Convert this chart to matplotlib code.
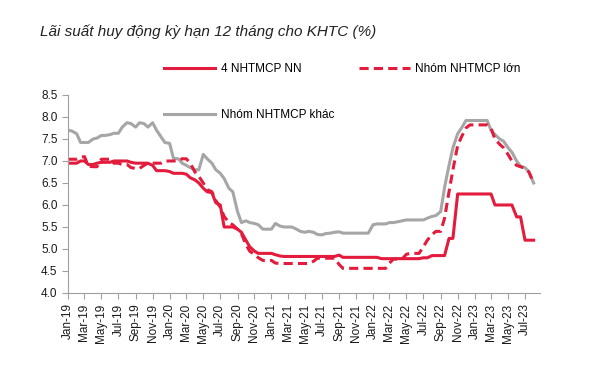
import numpy as np
import pandas as pd
import matplotlib; matplotlib.use("Agg")
import matplotlib.pyplot as plt
import matplotlib.dates as mdates

plt.rcParams.update({"font.family": ["Liberation Sans Narrow", "Liberation Sans", "DejaVu Sans"],
                     "font.size": 9, "axes.linewidth": 0.8})
RED = "#E31B3C"; GREY = "#A6A6A6"; AXC = "#A0A0A0"

# semi-monthly observations, Jan-19 .. mid Aug-23
dates = pd.date_range("2019-01-01", periods=111, freq="SMS")

nn = [6.95, 6.95, 6.95, 7.00, 7.00, 6.92, 6.92, 6.95, 6.97, 6.97,
      6.97, 7.00, 7.00, 7.00, 7.00, 6.97, 6.95, 6.95, 6.95, 6.95,
      6.90, 6.78, 6.78, 6.78, 6.76, 6.72, 6.72, 6.72, 6.70, 6.62,
      6.57, 6.50, 6.38, 6.30, 6.28, 6.05, 6.00, 5.50, 5.50, 5.50,
      5.45, 5.38, 5.20, 5.05, 4.95, 4.90, 4.90, 4.90, 4.90, 4.87,
      4.84, 4.83, 4.83, 4.83, 4.83, 4.83, 4.83, 4.83, 4.83, 4.83,
      4.83, 4.83, 4.83, 4.83, 4.86, 4.81, 4.81, 4.81, 4.81, 4.81,
      4.81, 4.81, 4.81, 4.81, 4.78, 4.78, 4.78, 4.78, 4.78, 4.78,
      4.78, 4.78, 4.78, 4.78, 4.80, 4.80, 4.85, 4.85, 4.85, 4.85,
      5.24, 5.24, 6.25, 6.25, 6.25, 6.25, 6.25, 6.25, 6.25, 6.25,
      6.25, 6.00, 6.00, 6.00, 6.00, 6.00, 5.73, 5.73, 5.20, 5.20,
      5.20]

lon = [7.04, 7.04, 7.04, 7.08, 7.10, 6.88, 6.87, 6.87, 7.04, 7.04,
       7.04, 6.95, 6.95, 6.92, 6.92, 6.85, 6.83, 6.83, 6.90, 6.95,
       6.95, 6.95, 6.95, 7.00, 7.00, 7.00, 7.00, 7.05, 7.05, 6.95,
       6.75, 6.65, 6.50, 6.35, 6.30, 6.10, 5.95, 5.74, 5.60, 5.55,
       5.45, 5.35, 5.10, 4.95, 4.87, 4.80, 4.74, 4.74, 4.74, 4.68,
       4.67, 4.67, 4.67, 4.67, 4.67, 4.67, 4.67, 4.67, 4.72, 4.79,
       4.79, 4.79, 4.79, 4.79, 4.65, 4.56, 4.56, 4.56, 4.56, 4.56,
       4.56, 4.56, 4.56, 4.56, 4.56, 4.56, 4.68, 4.77, 4.77, 4.77,
       4.88, 4.90, 4.90, 4.90, 5.05, 5.20, 5.33, 5.40, 5.40, 5.70,
       6.30, 6.80, 7.35, 7.55, 7.75, 7.82, 7.82, 7.82, 7.82, 7.82,
       7.74, 7.50, 7.38, 7.30, 7.15, 7.00, 6.90, 6.87, 6.83, 6.75,
       6.50]

khac = [7.70, 7.68, 7.62, 7.42, 7.42, 7.42, 7.50, 7.52, 7.58, 7.58,
        7.60, 7.63, 7.63, 7.77, 7.87, 7.85, 7.77, 7.87, 7.85, 7.77,
        7.87, 7.70, 7.55, 7.42, 7.40, 7.06, 7.05, 6.95, 6.90, 6.85,
        6.80, 6.80, 7.15, 7.05, 6.95, 6.80, 6.72, 6.60, 6.38, 6.30,
        5.85, 5.60, 5.64, 5.60, 5.58, 5.55, 5.45, 5.45, 5.45, 5.58,
        5.52, 5.50, 5.50, 5.50, 5.45, 5.40, 5.38, 5.40, 5.38, 5.33,
        5.32, 5.35, 5.36, 5.38, 5.39, 5.36, 5.36, 5.36, 5.36, 5.36,
        5.36, 5.36, 5.55, 5.57, 5.57, 5.57, 5.60, 5.60, 5.62, 5.64,
        5.66, 5.66, 5.66, 5.66, 5.66, 5.70, 5.74, 5.76, 5.85, 6.40,
        6.90, 7.30, 7.62, 7.75, 7.92, 7.92, 7.92, 7.92, 7.92, 7.92,
        7.70, 7.60, 7.50, 7.45, 7.30, 7.20, 7.00, 6.88, 6.85, 6.75,
        6.50]

fig = plt.figure(figsize=(5.9, 3.66), dpi=100)
ax = fig.add_axes([0.1153, 0.1995, 0.80, 0.541])

l3, = ax.plot(dates, khac, color=GREY, lw=2.2, label="Nhóm NHTMCP khác")
l1, = ax.plot(dates, nn, color=RED, lw=2.2, label="4 NHTMCP NN")
l2, = ax.plot(dates, lon, color=RED, lw=2.2, ls=(0, (3, 1.7)), label="Nhóm NHTMCP lớn")

ax.set_ylim(4.0, 8.5)
ax.set_yticks(np.arange(4.0, 8.51, 0.5))
ax.yaxis.set_major_formatter(plt.FormatStrFormatter("%.1f"))
ax.set_xlim(pd.Timestamp("2019-01-01"), pd.Timestamp("2023-08-24"))
ax.xaxis.set_major_locator(mdates.MonthLocator(bymonth=[1, 3, 5, 7, 9, 11]))
ax.xaxis.set_major_formatter(mdates.DateFormatter("%b-%y"))
plt.setp(ax.get_xticklabels(), rotation=90)

for s in ["top", "right"]:
    ax.spines[s].set_visible(False)
for s in ["left", "bottom"]:
    ax.spines[s].set_color(AXC)
ax.tick_params(colors=AXC, labelcolor="#1a1a1a", labelsize=8.5, length=4, width=0.8)

fig.text(40/590, 1-32/366, "Lãi suất huy động kỳ hạn 12 tháng cho KHTC (%)",
         style="italic", fontsize=11, va="center", color="#222222",
         family=["Liberation Sans", "DejaVu Sans"])

fig.legend(handles=[l1, l3, l2], ncol=2, frameon=False, fontsize=8.5,
           loc="upper left", bbox_to_anchor=(158/590, 1-57/366),
           borderpad=0, handlelength=4.3, handletextpad=0.5,
           labelspacing=2.9, columnspacing=2.1)

fig.savefig("out.png", dpi=100)
